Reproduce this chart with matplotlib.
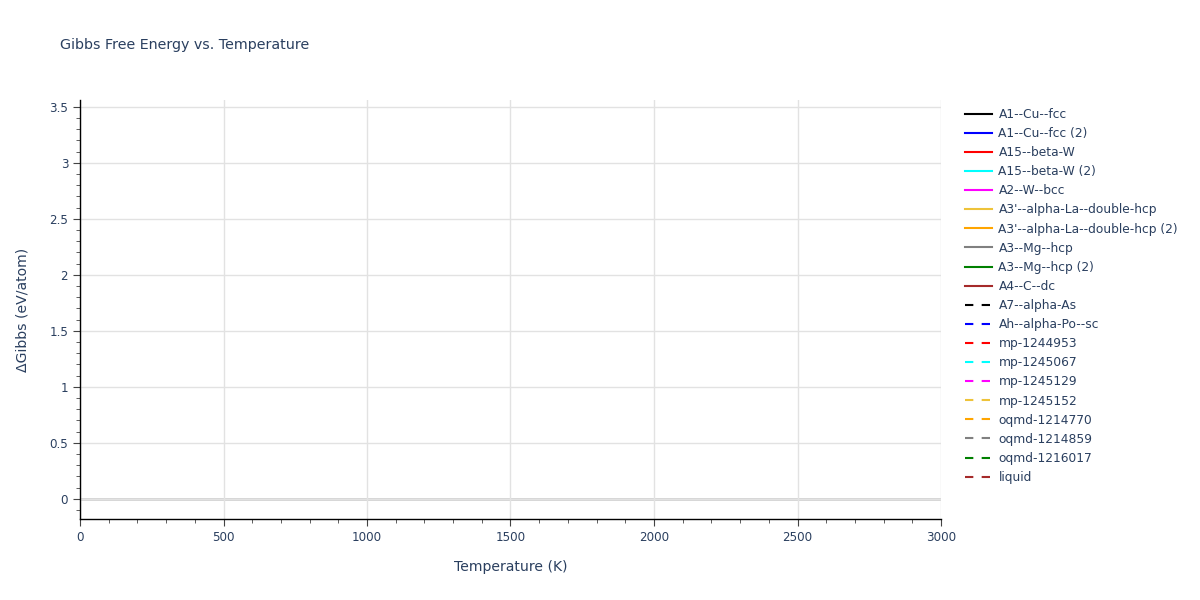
import numpy as np
import matplotlib.pyplot as plt
from matplotlib.ticker import MultipleLocator

# ========================= DATA =========================
# every phase curve is empty in the reference: only the legend shows them
phase_names = ['A1--Cu--fcc', 'A1--Cu--fcc (2)', 'A15--beta-W', 'A15--beta-W (2)',
               'A2--W--bcc', "A3'--alpha-La--double-hcp", "A3'--alpha-La--double-hcp (2)",
               'A3--Mg--hcp', 'A3--Mg--hcp (2)', 'A4--C--dc']
other_names = ['A7--alpha-As', 'Ah--alpha-Po--sc', 'mp-1244953', 'mp-1245067',
               'mp-1245129', 'mp-1245152', 'oqmd-1214770', 'oqmd-1214859',
               'oqmd-1216017', 'liquid']
temperatures = []
gibbs_values = []

x_range = [0, 3000]
y_range = [-0.18, 3.56]

# ========================= STYLE =========================
colors = ['black', 'blue', 'red', 'cyan', 'magenta', '#EEC33A', 'orange',
          'gray', 'green', 'brown']
text_col = '#2a3f5f'
plt.rcParams['font.family'] = ['DejaVu Sans']

fig = plt.figure(figsize=(12, 6), dpi=100)
ax = fig.add_axes([80 / 1200, 1 - 519 / 600, 861 / 1200, 419 / 600])

handles = []
for name, c in zip(phase_names, colors):
    h, = ax.plot(temperatures, gibbs_values, color=c, linewidth=1.5, label=name)
    handles.append(h)
for name, c in zip(other_names, colors):
    h, = ax.plot(temperatures, gibbs_values, color=c, linewidth=1.5,
                 linestyle=(0, (4, 4)), label=name)
    handles.append(h)

ax.set_xlim(x_range)
ax.set_ylim(y_range)
ax.xaxis.set_major_locator(MultipleLocator(500))
ax.xaxis.set_minor_locator(MultipleLocator(100))
ax.yaxis.set_major_locator(MultipleLocator(0.5))
ax.yaxis.set_minor_locator(MultipleLocator(0.1))
ax.yaxis.set_major_formatter(plt.FuncFormatter(lambda v, p: f'{v:g}'))

ax.grid(True, which='major', color='#e2e2e2', linewidth=1)
ax.axhline(0, color='#d0d0d0', linewidth=2, zorder=1)
for side in ['top', 'right']:
    ax.spines[side].set_visible(False)
for side in ['left', 'bottom']:
    ax.spines[side].set_color('black')
    ax.spines[side].set_linewidth(1)

ax.tick_params(which='major', direction='out', length=5, color='#444444',
               labelsize=8.6, labelcolor=text_col)
ax.tick_params(which='minor', direction='out', length=3, color='#444444')

ax.set_xlabel('Temperature (K)', fontsize=10.1, color=text_col, labelpad=12)
ax.set_ylabel('ΔGibbs (eV/atom)', fontsize=10.1, color=text_col, labelpad=14)
fig.text(60 / 1200, 1 - 45 / 600, 'Gibbs Free Energy vs. Temperature',
         fontsize=10.3, color=text_col, va='center', ha='left')

leg = fig.legend(handles=handles, loc='upper left',
                 bbox_to_anchor=(960 / 1200, 1 - 103 / 600),
                 frameon=False, fontsize=8.8, handlelength=2.25,
                 handletextpad=0.5, labelspacing=0.5, borderaxespad=0)
for t in leg.get_texts():
    t.set_color(text_col)

fig.savefig('out.png', dpi=100)
